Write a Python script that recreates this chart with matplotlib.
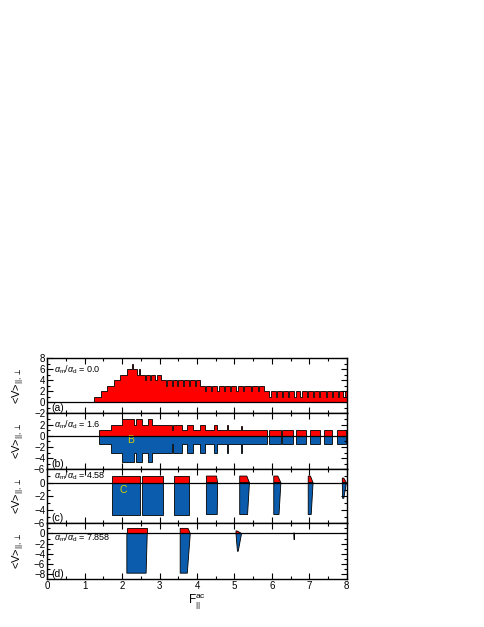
import numpy as np
import matplotlib
matplotlib.use('Agg')
from matplotlib import pyplot as plt
from matplotlib.ticker import MultipleLocator, FixedLocator

plt.rcParams['font.family'] = ['Liberation Sans', 'DejaVu Sans']
plt.rcParams['mathtext.fontset'] = 'custom'
plt.rcParams['mathtext.rm'] = 'Liberation Sans'
plt.rcParams['mathtext.it'] = 'Liberation Sans:italic'
plt.rcParams['mathtext.sf'] = 'Liberation Sans'

RED = '#ff0000'
BLUE = '#0b5cad'
YEL = '#d4d400'

##### panel (a): plateaus with single-point spikes (up) and notches (down)
a_edges = [1.26, 1.43, 1.60, 1.78, 1.95, 2.12, 2.40, 3.05, 4.08, 5.80, 8.0]
a_level = [1, 2, 3, 4, 5, 6, 5, 4, 3, 2]
a_spikes = [2.28, 2.47]
a_notches = [2.63, 2.76, 2.90, 3.19, 3.35, 3.47, 3.63, 3.79, 3.95,
             4.22, 4.38, 4.56, 4.74, 4.90, 5.07, 5.25, 5.45, 5.65,
             5.95, 6.12, 6.28, 6.45, 6.62, 6.78, 6.95, 7.12, 7.28, 7.45,
             7.62, 7.78, 7.93]

##### panel (b): step edges, parallel (red) and perpendicular (blue) parts
b_edges = [1.38, 1.70, 2.00, 2.32, 2.36, 2.52, 2.70, 2.79, 3.32, 3.37, 3.59,
           3.72, 3.90, 4.08, 4.21, 4.44, 4.54, 4.79, 4.84, 5.18, 5.20, 5.51,
           5.87, 5.91, 6.23, 6.28, 6.56, 6.65, 6.92, 7.01, 7.28, 7.39, 7.61,
           7.75, 7.97]
b_par = [1.0, 2.0, 2.9, 2.0, 2.9, 2.0, 2.9, 2.0, 1.0, 2.0, 1.0, 2.0, 1.0,
         2.0, 1.0, 2.0, 1.0, 2.0, 1.0, 1.8, 1.0, 1.0, 0.0, 1.0, 0.0, 1.0,
         0.0, 1.0, 0.0, 1.0, 0.0, 1.0, 0.0, 1.0]
b_perp = [-1.5, -3.1, -4.7, -3.1, -4.7, -3.1, -4.7, -3.1, -1.5, -3.1, -1.5,
          -3.1, -1.5, -3.1, -1.5, -3.1, -1.5, -3.1, -1.5, -3.1, -1.5, -1.5,
          0.0, -1.5, 0.0, -1.5, 0.0, -1.5, 0.0, -1.5, 0.0, -1.5, 0.0, -1.5]

##### panel (c): locked windows
c_left   = [1.72, 2.54, 3.38, 4.25, 5.14, 6.05, 6.97, 7.88]
c_top_r  = [2.47, 3.08, 3.79, 4.52, 5.33, 6.16, 7.03, 7.92]
c_zero_r = [2.47, 3.08, 3.79, 4.55, 5.40, 6.24, 7.10, 7.99]
c_bot_r  = [2.47, 3.08, 3.79, 4.54, 5.35, 6.19, 7.05, 7.92]
c_bot_l  = [1.72, 2.54, 3.38, 4.25, 5.14, 6.05, 6.97, 7.89]
c_par    = [1.0, 1.0, 1.0, 1.0, 1.0, 1.0, 1.0, 0.7]
c_perp   = [-4.7, -4.7, -4.7, -4.7, -4.7, -4.7, -4.7, -2.3]

##### panel (d)
d_left   = [2.125, 3.55, 5.04, 6.585]
d_top_r  = [2.67, 3.76, 5.07, 6.60]
d_zero_r = [2.67, 3.82, 5.19, 6.605]
d_bot_r  = [2.64, 3.74, 5.10, 6.60]
d_bot_l  = [2.125, 3.55, 5.08, 6.59]
d_par    = [1.0, 1.0, 0.5, 0.1]
d_perp   = [-7.8, -7.8, -3.5, -1.2]

ratios = ['0.0', '1.6', '4.58', '7.858']
tags = ['(a)', '(b)', '(c)', '(d)']
ylims = [(-2, 8), (-6, 4), (-6, 2), (-9, 2)]
yticks = [[-2, 0, 2, 4, 6, 8], [-6, -4, -2, 0, 2], [-6, -4, -2, 0], [-8, -6, -4, -2, 0]]
ratio_y = [6.0, 2.0, 1.1, -0.8]

#####

fig = plt.figure(figsize=(4.85, 6.27), dpi=100)
gs = fig.add_gridspec(4, 1, height_ratios=[55, 56, 54, 56], hspace=0)
fig.subplots_adjust(left=0.0975, right=0.715, top=0.4285, bottom=0.0761)
axs = [fig.add_subplot(gs[i]) for i in range(4)]
fs = 7

# (a)
w = 0.035
bnds = list(a_edges)
for s in a_spikes + a_notches:
    bnds += [s - w/2, s + w/2]
bnds = np.unique(np.round(bnds, 4))
mids = 0.5*(bnds[1:] + bnds[:-1])
vals = np.array(a_level, dtype=float)[np.searchsorted(a_edges, mids) - 1]
for s in a_spikes:
    vals[np.abs(mids - s) < w/2] += 1
for s in a_notches:
    vals[np.abs(mids - s) < w/2] -= 1
axs[0].stairs(vals, bnds, fill=True, facecolor=RED, edgecolor='black', linewidth=0.6)

# (b)
axs[1].stairs(b_par, b_edges, fill=True, facecolor=RED, edgecolor='black', linewidth=0.6)
axs[1].stairs(b_perp, b_edges, fill=True, facecolor=BLUE, edgecolor='black', linewidth=0.6)
axs[1].text(2.22, -0.85, 'B', color=YEL, fontsize=7.5, ha='center', va='center')

# (c), (d)
for ax, L, TR, ZR, BR, BL, P, Q in [
        (axs[2], c_left, c_top_r, c_zero_r, c_bot_r, c_bot_l, c_par, c_perp),
        (axs[3], d_left, d_top_r, d_zero_r, d_bot_r, d_bot_l, d_par, d_perp)]:
    for i in range(len(L)):
        ax.fill([L[i], TR[i], ZR[i], L[i]], [P[i], P[i], 0, 0],
                facecolor=RED, edgecolor='black', linewidth=0.6)
        ax.fill([L[i], ZR[i], BR[i], BL[i]], [0, 0, Q[i], Q[i]],
                facecolor=BLUE, edgecolor='black', linewidth=0.6)
axs[2].text(2.02, -1.0, 'C', color=YEL, fontsize=7.5, ha='center', va='center')

for i, ax in enumerate(axs):
    ax.axhline(0, color='black', linewidth=0.9, zorder=3)
    ax.set_xlim(0, 8)
    ax.set_ylim(ylims[i])
    ax.xaxis.set_major_locator(MultipleLocator(1))
    ax.xaxis.set_minor_locator(MultipleLocator(0.5))
    ax.yaxis.set_major_locator(FixedLocator(yticks[i]))
    ax.yaxis.set_minor_locator(MultipleLocator(1))
    ax.tick_params(which='both', direction='in', top=True, right=True, labelsize=fs, pad=1.5)
    ax.tick_params(which='major', length=4, width=0.8)
    ax.tick_params(which='minor', length=2.2, width=0.8)
    for sp in ax.spines.values():
        sp.set_linewidth(1.0)
    if i < 3:
        ax.tick_params(labelbottom=False)
    ax.set_ylabel(r'<V>$_{||,\perp}$', fontsize=fs+1)
    ax.yaxis.set_label_coords(-0.068, 0.5)
    ax.text(0.17, ratio_y[i], r'$\alpha_{\rm m}/\alpha_{\rm d}$ = ' + ratios[i],
            fontsize=6.5, ha='left', va='center')
    ax.text(0.015, 0.01, tags[i], fontsize=7.5, ha='left', va='bottom', transform=ax.transAxes)

axs[3].set_xlabel(r'F$^{\rm ac}_{||}$', fontsize=8.5, labelpad=1)

fig.savefig('out.png', dpi=100)
